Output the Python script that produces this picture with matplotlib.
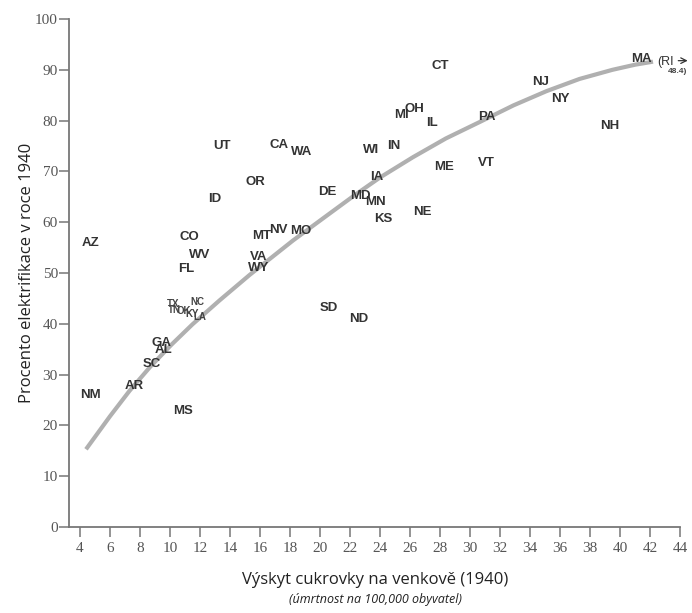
import matplotlib.pyplot as plt

# state abbreviations with (rural diabetes rate, % electrified)
states = ['AZ', 'NM', 'AR', 'SC', 'GA', 'AL', 'MS', 'FL', 'WV', 'CO', 'ID', 'UT',
          'OR', 'CA', 'WA', 'MT', 'NV', 'MO', 'VA', 'WY', 'DE', 'SD', 'ND', 'MD',
          'MN', 'KS', 'IA', 'WI', 'IN', 'MI', 'OH', 'IL', 'CT', 'ME', 'NE', 'PA',
          'VT', 'NJ', 'NY', 'NH', 'MA']
diabetes = [4.7, 4.7, 7.6, 8.8, 9.4, 9.6, 10.9, 11.1, 12.0, 11.3, 13.0, 13.5,
            15.7, 17.3, 18.8, 16.1, 17.2, 18.7, 15.9, 15.9, 20.5, 20.6, 22.6, 22.7,
            23.7, 24.2, 23.8, 23.4, 24.9, 25.4, 26.3, 27.5, 28.0, 28.3, 26.8, 31.1,
            31.1, 34.7, 36.0, 39.3, 41.4]
electrified = [56.0, 25.9, 27.7, 32.0, 36.3, 34.8, 22.8, 50.7, 53.6, 57.0, 64.6, 75.0,
               68.0, 75.2, 73.9, 57.2, 58.5, 58.3, 53.2, 50.9, 66.0, 43.2, 40.9, 65.2,
               63.9, 60.7, 68.8, 74.3, 75.0, 81.1, 82.3, 79.6, 90.8, 70.9, 62.1, 80.7,
               71.7, 87.6, 84.3, 79.0, 92.1]

# crowded southern cluster, printed smaller
small_states = ['TX', 'NC', 'TN', 'OK', 'KY', 'LA']
small_x = [10.2, 11.8, 10.3, 10.9, 11.5, 12.0]
small_y = [43.9, 44.3, 42.8, 42.6, 41.9, 41.3]

# trend curve
curve_x = [4.4, 6.0, 7.3, 8.7, 10.1, 11.5, 13.3, 15.3, 18.2, 20.5, 22.3, 24.0,
           26.2, 28.4, 30.7, 32.9, 35.1, 37.3, 39.5, 41.0, 42.2]
curve_y = [15.3, 21.8, 26.8, 31.6, 35.9, 39.9, 44.6, 49.6, 56.4, 61.4, 65.3, 68.8,
           72.8, 76.5, 79.8, 83.0, 85.8, 88.2, 90.0, 91.0, 91.6]

fig = plt.figure(figsize=(6.92, 6.13), dpi=100)
ax = fig.add_axes([69 / 692, 86 / 613, 611 / 692, 508 / 613])

ax.plot(curve_x, curve_y, color='#b0b0b0', linewidth=3.0, solid_capstyle='butt', zorder=1)

for s, x, y in zip(states, diabetes, electrified):
    ax.text(x, y, s, ha='center', va='center', fontsize=9.5, fontweight='bold',
            family='Liberation Sans', color='#333333', zorder=3)
for s, x, y in zip(small_states, small_x, small_y):
    ax.text(x, y, s, ha='center', va='center', fontsize=7, fontweight='bold',
            family='Liberation Sans', color='#444444', zorder=3)

# Rhode Island is off the chart
ax.annotate('', xy=(44.7, 91.8), xytext=(43.7, 91.8),
            arrowprops=dict(arrowstyle='->', color='#333333', lw=0.9), annotation_clip=False)
ax.text(42.5, 91.6, '(RI', ha='left', va='center', fontsize=9, family='Liberation Sans',
        color='#333333', clip_on=False)
ax.text(43.85, 89.7, '48.4)', ha='center', va='center', fontsize=6, fontweight='bold',
        family='Liberation Sans', color='#444444', clip_on=False)

ax.set_xlim(4 - 11 / 15, 44)
ax.set_ylim(0, 100)
ax.set_xticks(range(4, 45, 2))
ax.set_yticks(range(0, 101, 10))

for sp in ['top', 'right']:
    ax.spines[sp].set_visible(False)
for sp in ['left', 'bottom']:
    ax.spines[sp].set_color('#777777')
    ax.spines[sp].set_linewidth(1.3)

ax.tick_params(axis='both', direction='out', length=7, width=1.1, color='#777777',
               labelcolor='#555555', labelsize=11)
for lab in ax.get_xticklabels() + ax.get_yticklabels():
    lab.set_family('Liberation Serif')
ax.tick_params(axis='y', pad=1)
ax.tick_params(axis='x', pad=4)

ax.set_ylabel('Procento elektrifikace v roce 1940', family='Open Sans', fontsize=12,
              color='#222222', labelpad=0)
fig.text(375 / 692, 1 - 580 / 613, 'Výskyt cukrovky na venkově (1940)', ha='center',
         va='center', family='Open Sans', fontsize=12, color='#222222')
fig.text(375 / 692, 1 - 599 / 613, '(úmrtnost na 100,000 obyvatel)', ha='center',
         va='center', family='Open Sans', fontsize=9, style='italic', color='#222222')

fig.savefig('out.png', dpi=100)
